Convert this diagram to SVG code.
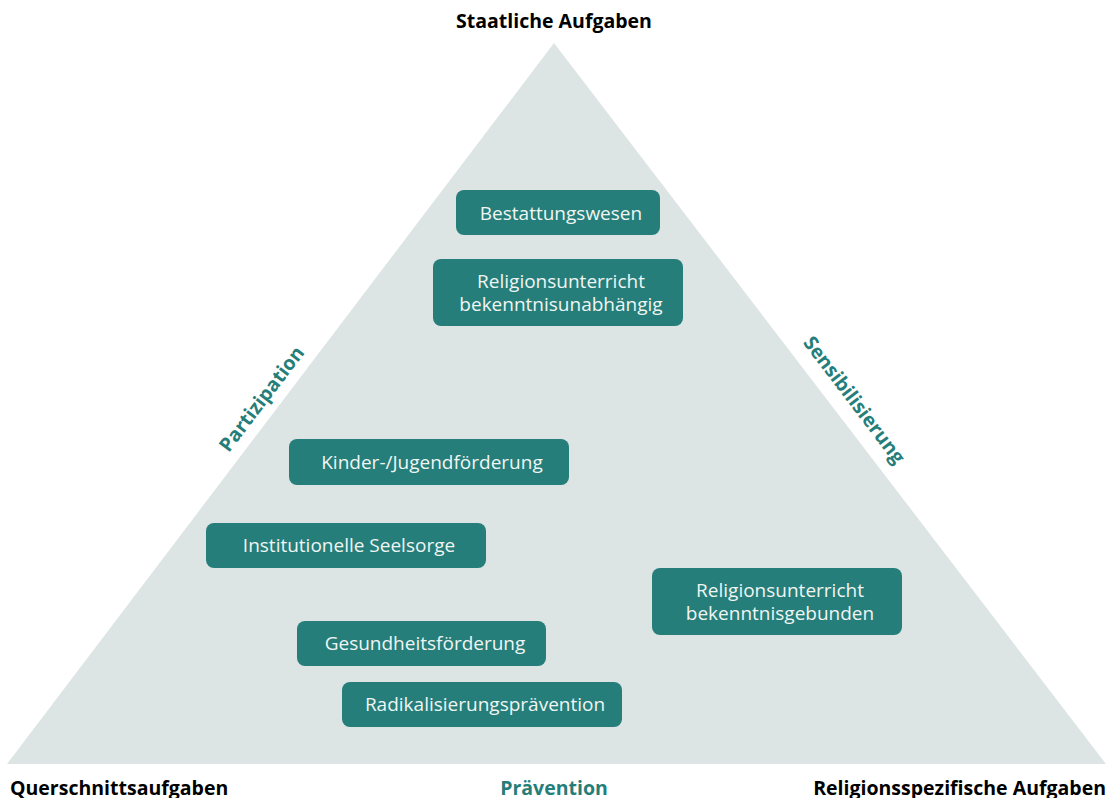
<svg xmlns="http://www.w3.org/2000/svg" width="1116" height="798" viewBox="0 0 1116 798">
<style>
.box{fill:#257e79;}
.bt{font-family:"Open Sans","Noto Sans","Liberation Sans",sans-serif;font-size:19px;fill:#f0f5f4;text-anchor:middle;}
.lbl{font-family:"Open Sans","Noto Sans","Liberation Sans",sans-serif;font-size:19.5px;font-weight:bold;fill:#000;}
.side{font-family:"Open Sans","Noto Sans","Liberation Sans",sans-serif;font-size:19.5px;font-weight:bold;fill:#257e79;text-anchor:middle;}
</style>
<rect width="1116" height="798" fill="#ffffff"/>
<polygon id="triangle" points="554,43 7,764 1106,764" fill="#dde5e4"/>
<g id="connectors"></g>
<text id="top-label" class="lbl" x="554" y="28" text-anchor="middle">Staatliche Aufgaben</text>
<text id="bl-label" class="lbl" x="10" y="794.5">Querschnittsaufgaben</text>
<text id="bc-label" class="side" x="554" y="794.5">Prävention</text>
<text id="br-label" class="lbl" x="1106" y="794.5" text-anchor="end">Religionsspezifische Aufgaben</text>
<text id="left-label" class="side" transform="translate(267,403) rotate(-52.8)">Partizipation</text>
<text id="right-label" class="side" transform="translate(849,404) rotate(52.8)">Sensibilisierung</text>
<g id="n1"><rect class="box" x="456" y="190" width="204" height="45" rx="8"/><text class="bt" x="561" y="219.5">Bestattungswesen</text></g>
<g id="n2"><rect class="box" x="433" y="259" width="250" height="67" rx="8"/><text class="bt" x="561" y="287.5">Religionsunterricht</text><text class="bt" x="561" y="310.5">bekenntnisunabhängig</text></g>
<g id="n3"><rect class="box" x="289" y="439" width="280" height="46" rx="8"/><text class="bt" x="432" y="468.5">Kinder-/Jugendförderung</text></g>
<g id="n4"><rect class="box" x="206" y="523" width="280" height="45" rx="8"/><text class="bt" x="349" y="551.5">Institutionelle Seelsorge</text></g>
<g id="n5"><rect class="box" x="652" y="568" width="250" height="67" rx="8"/><text class="bt" x="780" y="596.5">Religionsunterricht</text><text class="bt" x="780" y="619.5">bekenntnisgebunden</text></g>
<g id="n6"><rect class="box" x="297" y="621" width="249" height="45" rx="8"/><text class="bt" x="425" y="649.5">Gesundheitsförderung</text></g>
<g id="n7"><rect class="box" x="342" y="682" width="280" height="45" rx="8"/><text class="bt" x="485" y="710.5">Radikalisierungsprävention</text></g>
</svg>
